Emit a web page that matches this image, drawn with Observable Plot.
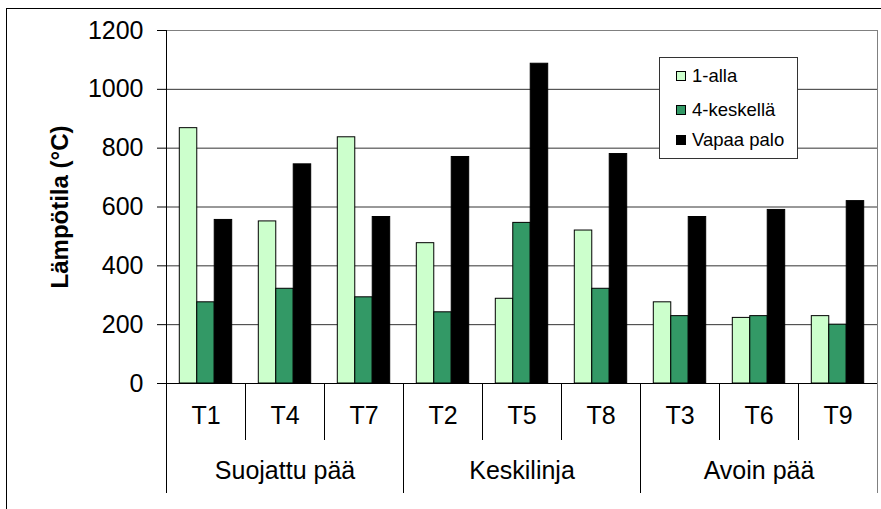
<!DOCTYPE html>
<html>
<head>
<meta charset="utf-8">
<script src="https://cdn.jsdelivr.net/npm/d3@7"></script>
<script src="https://cdn.jsdelivr.net/npm/@observablehq/plot@0.6"></script>
<style>
  html, body { margin: 0; padding: 0; background: #fff; }
  #wrap { position: relative; width: 881px; height: 509px; overflow: hidden; font-family: "Liberation Sans", Arial, sans-serif; }
  #frame { position: absolute; left: 6px; top: 7.5px; right: -10px; bottom: -10px; border-left: 1.5px solid #000; border-top: 1.5px solid #000; }
  #chart { position: absolute; left: 0; top: 0; }
  #legend { position: absolute; left: 659px; top: 57px; width: 137px; height: 100px; border: 1px solid #333; background: #fff; font-size: 18.5px; color: #000; }
  .item { position: absolute; left: 16px; height: 22px; display: flex; align-items: center; }
  .sw { width: 8px; height: 8px; border: 1px solid #000; margin-right: 6px; }
</style>
</head>
<body>
<div id="wrap">
  <div id="frame"></div>
  <div id="chart"></div>
  <div id="legend"></div>
</div>
<script>
const categories = ["T1", "T4", "T7", "T2", "T5", "T8", "T3", "T6", "T9"];
const groups = ["Suojattu pää", "Keskilinja", "Avoin pää"];
const seriesNames = ["1-alla", "4-keskellä", "Vapaa palo"];
const alla = [868, 551, 837, 477, 288, 520, 276, 223, 229];
const keskella = [276, 322, 293, 242, 546, 322, 229, 229, 200];
const vapaaPalo = [556, 745, 566, 770, 1087, 780, 566, 590, 620];
const yTicks = [0, 200, 400, 600, 800, 1000, 1200];
const gridValues = [200, 400, 600, 800, 1000];
const seriesColors = ["#CCFFCC", "#339966", "#000000"];

const W = 881, H = 509, mL = 166, mR = 4, mT = 30, mB = 126;
const bw = (W - mL - mR) / categories.length;
const frameH = H - mT - mB;
const pad = 13.3, barW = (bw - 2 * pad) / 3;

const table = categories.map((c, i) => ({cat: c, v: [alla[i], keskella[i], vapaaPalo[i]]}));
const font = "Liberation Sans, Arial, sans-serif";

const barMarks = seriesNames.map((s, k) => Plot.barY(table, {
  x: "cat",
  y: d => d.v[k],
  fill: seriesColors[k],
  stroke: "#000",
  strokeWidth: 1,
  insetLeft: pad + k * barW,
  insetRight: bw - pad - (k + 1) * barW
}));

const shortSeps = categories.filter((c, i) => i % 3 !== 0);
const groupSeps = categories.filter((c, i) => i % 3 === 0 && i > 0);
const groupMid = groups.map((g, j) => ({g, cat: categories[j * 3 + 1]}));

const chart = Plot.plot({
  width: W,
  height: H,
  marginLeft: mL,
  marginRight: mR,
  marginTop: mT,
  marginBottom: mB,
  style: {fontFamily: font, background: "transparent", overflow: "visible"},
  x: {type: "band", domain: categories, padding: 0, axis: null},
  y: {domain: [0, 1200], axis: null},
  marks: [
    Plot.ruleY(gridValues, {stroke: "#333", strokeWidth: 1}),
    Plot.ruleY([1200], {stroke: "#808080", strokeWidth: 1}),
    ...barMarks,
    Plot.ruleY([0], {stroke: "#000", strokeWidth: 1}),
    Plot.axisY(yTicks, {anchor: "left", tickSize: 9, tickPadding: 14, fontSize: 25, fill: "#000", label: null, tickFormat: d => String(d)}),
    // left value axis line, extended down through the category area
    Plot.ruleX([categories[0]], {dx: -bw / 2, insetBottom: -110, stroke: "#000"}),
    // right plot area border
    Plot.ruleX([categories[categories.length - 1]], {dx: bw / 2, insetBottom: -110, stroke: "#808080"}),
    // category separators
    Plot.ruleX(shortSeps, {dx: -bw / 2, insetTop: frameH, insetBottom: -57, stroke: "#000"}),
    // group separators
    Plot.ruleX(groupSeps, {dx: -bw / 2, insetTop: frameH, insetBottom: -110, stroke: "#000"}),
    // category labels
    Plot.text(categories, {x: d => d, frameAnchor: "bottom", dy: 40, fontSize: 25, fill: "#000"}),
    // group labels
    Plot.text(groupMid, {x: "cat", text: "g", frameAnchor: "bottom", dy: 95, fontSize: 25, fill: "#000"}),
    // y axis title
    Plot.text(["Lämpötila (°C)"], {frameAnchor: "left", textAnchor: "middle", dx: -106, rotate: -90, fontSize: 24, fontWeight: "bold", fill: "#000"})
  ]
});
document.getElementById("chart").appendChild(chart);

const legend = document.getElementById("legend");
const rowTops = [7, 41, 71];
seriesNames.forEach((s, k) => {
  const it = document.createElement("div");
  it.className = "item";
  it.style.top = rowTops[k] + "px";
  const sw = document.createElement("span");
  sw.className = "sw";
  sw.style.background = seriesColors[k];
  const tx = document.createElement("span");
  tx.textContent = s;
  it.appendChild(sw);
  it.appendChild(tx);
  legend.appendChild(it);
});
</script>
</body>
</html>
